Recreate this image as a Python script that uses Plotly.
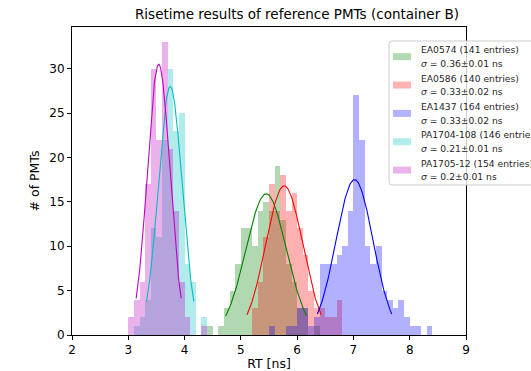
import numpy as np
import plotly.graph_objects as go

# ---- data -------------------------------------------------------------
bin_width = 0.1
x_ticks = [2, 3, 4, 5, 6, 7, 8, 9]
y_ticks = [0, 5, 10, 15, 20, 25, 30]

pmt_names = ["EA0574", "EA0586", "EA1437", "PA1704-108", "PA1705-12"]
pmt_entries = [141, 140, 164, 146, 154]
sigma_text = ["0.36±0.01", "0.33±0.02", "0.33±0.02", "0.21±0.01", "0.2±0.01"]
line_colors = ["#008000", "#ff0000", "#0000ff", "#00bfbf", "#bf00bf"]

# left edge of the first histogram bin of each PMT (ns)
first_bin = [4.4, 5.2, 5.5, 3.1, 3.0]

ea0574_counts = [1, 0, 1, 3, 5, 8, 12, 12, 10, 14, 15, 14, 19, 13, 8, 6, 3, 3, 0, 1]
ea0586_counts = [3, 6, 11, 17, 14, 18, 14, 16, 12, 9, 5, 3, 3, 2, 2, 4]
ea1437_counts = [1, 0, 0, 1, 1, 3, 3, 1, 2, 8, 8, 8, 9, 10, 14, 27, 22, 10, 8, 10,
                 5, 4, 3, 4, 2, 1, 1, 0, 1]
pa1704_counts = [1, 2, 4, 12, 11, 22, 30, 23, 25, 8, 6, 0, 2]
pa1705_counts = [2, 4, 6, 17, 30, 22, 33, 21, 14, 6, 2, 0, 0, 1]

# gaussian fit results: amplitude, mean (ns), sigma (ns)
fit_amp = [15.9, 16.8, 17.5, 28.0, 30.5]
fit_mean = [5.45, 5.77, 7.02, 3.745, 3.54]
fit_sigma = [0.36, 0.33, 0.33, 0.21, 0.20]

all_counts = [ea0574_counts, ea0586_counts, ea1437_counts, pa1704_counts, pa1705_counts]

# ---- figure geometry (pixels) -----------------------------------------
W, H = 531, 371
ML, MR, MT, MB = 72, 65, 27, 36
PW, PH = W - ML - MR, H - MT - MB


def px_x(px):
    return (px - ML) / PW


def px_y(py):
    return (H - MB - py) / PH


fig = go.Figure()

# histograms
for name, start, counts, col in zip(pmt_names, first_bin, all_counts, line_colors):
    counts = np.array(counts)
    centers = start + bin_width * (np.arange(len(counts)) + 0.5)
    fig.add_trace(go.Bar(
        x=centers, y=counts, width=bin_width,
        marker=dict(color=col, line=dict(width=0)),
        opacity=0.3, name=name, showlegend=False,
    ))

# gaussian fits drawn over mean ± 2 sigma
for amp, mu, sg, col in zip(fit_amp, fit_mean, fit_sigma, line_colors):
    xs = np.linspace(mu - 2 * sg, mu + 2 * sg, 120)
    ys = amp * np.exp(-0.5 * ((xs - mu) / sg) ** 2)
    fig.add_trace(go.Scatter(x=xs, y=ys, mode="lines",
                             line=dict(color=col, width=1.1), showlegend=False))

# ---- legend box -------------------------------------------------------
shapes = []
annotations = []
bx0, by0, bx1, by1, r = 389, 41, 560, 185, 3
path = (f"M {px_x(bx0 + r)} {px_y(by0)} L {px_x(bx1)} {px_y(by0)} "
        f"L {px_x(bx1)} {px_y(by1)} L {px_x(bx0 + r)} {px_y(by1)} "
        f"Q {px_x(bx0)} {px_y(by1)} {px_x(bx0)} {px_y(by1 - r)} "
        f"L {px_x(bx0)} {px_y(by0 + r)} "
        f"Q {px_x(bx0)} {px_y(by0)} {px_x(bx0 + r)} {px_y(by0)} Z")
shapes.append(dict(type="path", xref="paper", yref="paper", path=path,
                   fillcolor="rgba(255,255,255,0.8)",
                   line=dict(color="#cccccc", width=1), layer="above"))

entry_y0, entry_step = 56.7, 28.35
for i, (name, n, sg, col) in enumerate(zip(pmt_names, pmt_entries, sigma_text, line_colors)):
    cy = entry_y0 + i * entry_step
    shapes.append(dict(type="rect", xref="paper", yref="paper",
                       x0=px_x(393), x1=px_x(411), y0=px_y(cy - 3.5), y1=px_y(cy + 3.5),
                       fillcolor=col, opacity=0.3, line=dict(width=0), layer="above"))
    annotations.append(dict(xref="paper", yref="paper", x=px_x(418.5), y=px_y(cy - 6.8),
                            text=f"{name} ({n} entries)", showarrow=False,
                            xanchor="left", yanchor="middle",
                            font=dict(size=9.2, color="#262626")))
    annotations.append(dict(xref="paper", yref="paper", x=px_x(418.5), y=px_y(cy + 6.8),
                            text=f"<i>σ</i> = {sg} ns", showarrow=False,
                            xanchor="left", yanchor="middle",
                            font=dict(size=9.2, color="#262626")))

axis_common = dict(showline=True, linecolor="black", linewidth=1, mirror=True,
                   ticks="outside", ticklen=4, tickcolor="black", showgrid=False,
                   zeroline=False, tickfont=dict(size=12, color="black"),
                   automargin=False)

fig.update_layout(
    width=W, height=H,
    margin=dict(l=ML, r=MR, t=MT, b=MB, pad=0),
    plot_bgcolor="white", paper_bgcolor="white",
    barmode="overlay", bargap=0,
    font=dict(family="DejaVu Sans", color="black"),
    title=dict(text="Risetime results of reference PMTs (container B)",
               x=297 / W, xref="container", xanchor="center",
               y=1 - 14.5 / H, yref="container", yanchor="middle",
               font=dict(size=13.5, color="black")),
    xaxis=dict(range=[2, 9], tickvals=x_ticks,
               title=dict(text="RT [ns]", font=dict(size=12.5), standoff=8),
               **axis_common),
    yaxis=dict(range=[0, 34.7], tickvals=y_ticks,
               title=dict(text="# of PMTs", font=dict(size=12.5), standoff=6),
               **axis_common),
    shapes=shapes, annotations=annotations,
)

fig.write_html("out.html")
